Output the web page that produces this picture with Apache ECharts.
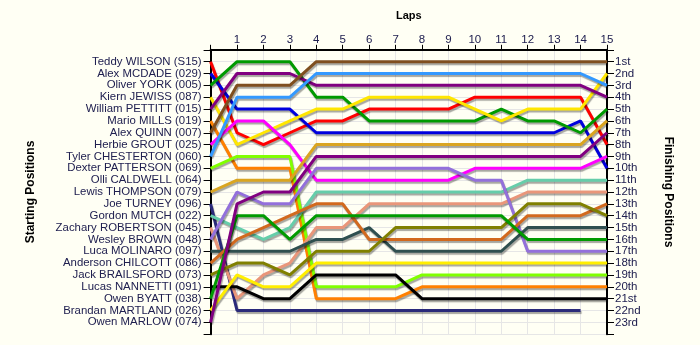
<!DOCTYPE html>
<html><head><meta charset="utf-8">
<script src="https://cdn.jsdelivr.net/npm/echarts@6/dist/echarts.min.js"></script>
<style>html,body{margin:0;padding:0;background:#fffff4}#c{width:700px;height:345px}</style>
</head><body><div id="c"></div>
<script>
// ---- data ----
const drivers = ['Teddy WILSON (S15)','Alex MCDADE (029)','Oliver YORK (005)','Kiern JEWISS (087)','William PETTITT (015)','Mario MILLS (019)','Alex QUINN (007)','Herbie GROUT (025)','Tyler CHESTERTON (060)','Dexter PATTERSON (069)','Olli CALDWELL (064)','Lewis THOMPSON (079)','Joe TURNEY (096)','Gordon MUTCH (022)','Zachary ROBERTSON (045)','Wesley BROWN (048)','Luca MOLINARO (097)','Anderson CHILCOTT (086)','Jack BRAILSFORD (073)','Lucas NANNETTI (091)','Owen BYATT (038)','Brandan MARTLAND (026)','Owen MARLOW (074)'];
const finishLabels = ['1st','2nd','3rd','4th','5th','6th','7th','8th','9th','10th','11th','12th','13th','14th','15th','16th','17th','18th','19th','20th','21st','22nd','23rd'];
const lapLabels = ['1','2','3','4','5','6','7','8','9','10','11','12','13','14','15'];

// positions at lap 0..15
const wilson     = [1,7,8,7,6,6,5,5,5,5,4,4,4,4,4,8];
const mcdade     = [2,5,5,5,7,7,7,7,7,7,7,7,7,7,6,10];
const york       = [3,1,1,1,4,4,6,6,6,6,6,5,6,6,7,5];
const jewiss     = [4,8,7,6,5,5,4,4,4,4,5,6,5,5,5,2];
const pettitt    = [5,2,2,2,3,3,3,3,3,3,3,3,3,3,3,4];
const mills      = [6,10,10,10,21,21,21,21,20,20,20,20,20,20,20,20];
const quinn      = [7,3,3,3,1,1,1,1,1,1,1,1,1,1,1,1];
const grout      = [8,6,6,8,11,11,11,11,11,11,10,10,10,10,10,9];
const chesterton = [9,4,4,4,2,2,2,2,2,2,2,2,2,2,2,3];
const patterson  = [10,9,9,9,20,20,20,20,19,19,19,19,19,19,19,19];
const caldwell   = [];
const thompson   = [12,11,11,11,8,8,8,8,8,8,8,8,8,8,8,6];
const turney     = [13,22,22,22,22,22,22,22,22,22,22,22,22,22,22];
const mutch      = [14,15,16,15,12,12,12,12,12,12,12,12,11,11,11,11];
const robertson  = [15,21,19,18,15,15,13,13,13,13,13,13,12,12,12,12];
const brown      = [16,12,13,13,10,10,10,10,10,10,11,11,17,17,17,17];
const molinaro   = [17,17,17,17,16,16,15,17,17,17,17,17,15,15,15,15];
const chilcott   = [18,16,15,14,13,13,16,16,16,16,16,16,14,14,14,13];
const brailsford = [19,18,18,19,17,17,17,15,15,15,15,15,13,13,13,14];
const nannetti   = [20,20,21,21,19,19,19,19,21,21,21,21,21,21,21,21];
const byatt      = [21,14,14,16,14,14,14,14,14,14,14,14,16,16,16,16];
const martland   = [22,19,20,20,18,18,18,18,18,18,18,18,18,18,18,18];
const marlow     = [23,13,12,12,9,9,9,9,9,9,9,9,9,9,9,7];

const positions = [wilson,mcdade,york,jewiss,pettitt,mills,quinn,grout,chesterton,patterson,caldwell,thompson,turney,mutch,robertson,brown,molinaro,chilcott,brailsford,nannetti,byatt,martland,marlow];
const colors = ['#ff0000','#0000dd','#009a00','#ffe600','#800080','#ff8000','#7f4f1f','#ff00ff','#3399ff','#80ff00','#999999','#daa520','#2a2a7a','#66cdaa','#e9967a','#9370db','#2f4f4f','#d2691e','#808000','#000000','#009a00','#ffee00','#800080'];

const FONT = 'Liberation Sans, Arial, sans-serif';
const TXT = '#202050';

const series = positions.map((arr, i) => ({
  type: 'line',
  name: drivers[i],
  data: arr.map((p, lap) => [lap, p]),
  symbol: 'none',
  silent: true,
  lineStyle: { color: colors[i], width: 3, shadowColor: 'rgba(0,0,0,0.35)', shadowBlur: 1, shadowOffsetX: 1, shadowOffsetY: 2 }
}));

const chart = echarts.init(document.getElementById('c'), null, { renderer: 'canvas' });
chart.setOption({
  animation: false,
  backgroundColor: '#fffff4',
  grid: { left: 210.6, right: 93, top: 49.8, bottom: 10.8 },
  xAxis: {
    type: 'value', position: 'top', min: 0, max: 15, interval: 1,
    axisLine: { show: true, onZero: false, lineStyle: { color: '#000', width: 2 } },
    axisTick: { show: true, length: 5, lineStyle: { color: '#000' } },
    axisLabel: { formatter: v => v === 0 ? '' : lapLabels[v - 1], color: TXT, fontSize: 11.5, fontFamily: FONT, margin: 4 },
    splitLine: { show: true, lineStyle: { color: '#e6e6e6' } },
    name: 'Laps', nameLocation: 'middle', nameGap: 28,
    nameTextStyle: { fontWeight: 'bold', fontSize: 11, color: '#000', fontFamily: FONT }
  },
  yAxis: [{
    type: 'value', position: 'left', min: 0, max: 24, interval: 1, inverse: true,
    axisLine: { show: true, onZero: false, lineStyle: { color: '#000', width: 2 } },
    axisTick: { show: true, length: 7, lineStyle: { color: '#000' } },
    axisLabel: { formatter: v => drivers[v - 1] || '', color: TXT, fontSize: 11.4, fontFamily: FONT, margin: 9 },
    splitLine: { show: true, lineStyle: { color: '#e6e6e6' } },
    name: 'Starting Positions', nameLocation: 'middle', nameRotate: 90, nameGap: 174,
    nameTextStyle: { fontWeight: 'bold', fontSize: 12, color: '#000', fontFamily: FONT }
  }, {
    type: 'value', position: 'right', min: 0, max: 24, interval: 1, inverse: true,
    axisLine: { show: true, onZero: false, lineStyle: { color: '#000', width: 2 } },
    axisTick: { show: true, length: 7, lineStyle: { color: '#000' } },
    axisLabel: { formatter: v => finishLabels[v - 1] || '', color: TXT, fontSize: 11.5, fontFamily: FONT, margin: 8 },
    splitLine: { show: false },
    name: 'Finishing Positions', nameLocation: 'middle', nameRotate: -90, nameGap: 55,
    nameTextStyle: { fontWeight: 'bold', fontSize: 12, color: '#000', fontFamily: FONT }
  }],
  series: series
});
</script>
</body></html>
